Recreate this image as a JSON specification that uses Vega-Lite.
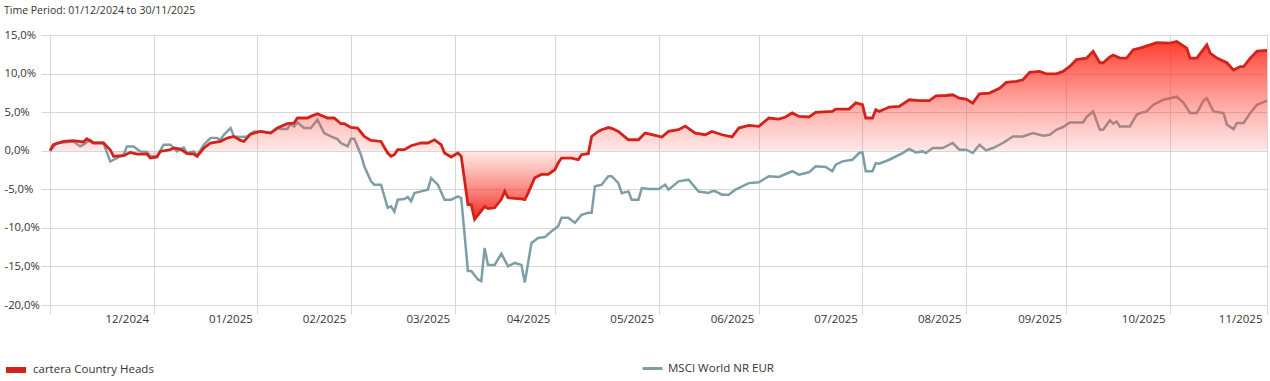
{
  "$schema": "https://vega.github.io/schema/vega-lite/v6.json",
  "width": 1217,
  "height": 270,
  "autosize": {"type": "none"},
  "padding": {"left": 50, "top": 35, "right": 3, "bottom": 76},
  "background": "white",
  "title": {
    "text": "Time Period: 01/12/2024 to 30/11/2025",
    "anchor": "start",
    "frame": "group",
    "orient": "top",
    "dx": -46,
    "offset": 13,
    "font": "Open Sans",
    "fontSize": 10.5,
    "fontWeight": "normal",
    "color": "#333333"
  },
  "config": {
    "view": {"stroke": null},
    "font": "Open Sans"
  },
  "datasets": {
    "cartera": [
      {"date": "2024-12-01", "value": 0},
      {"date": "2024-12-02", "value": 0.78},
      {"date": "2024-12-05", "value": 1.2},
      {"date": "2024-12-08", "value": 1.3},
      {"date": "2024-12-11", "value": 1.13},
      {"date": "2024-12-12", "value": 1.55},
      {"date": "2024-12-14", "value": 1.0},
      {"date": "2024-12-17", "value": 1.0},
      {"date": "2024-12-19", "value": 0.13},
      {"date": "2024-12-20", "value": -0.73},
      {"date": "2024-12-23", "value": -0.65},
      {"date": "2024-12-25", "value": -0.22},
      {"date": "2024-12-27", "value": -0.43},
      {"date": "2024-12-30", "value": -0.43},
      {"date": "2024-12-31", "value": -0.95},
      {"date": "2025-01-02", "value": -0.82},
      {"date": "2025-01-03", "value": -0.09},
      {"date": "2025-01-06", "value": 0.13},
      {"date": "2025-01-07", "value": 0.35},
      {"date": "2025-01-09", "value": 0.22},
      {"date": "2025-01-11", "value": -0.39},
      {"date": "2025-01-13", "value": -0.43},
      {"date": "2025-01-14", "value": -0.73},
      {"date": "2025-01-16", "value": 0.35},
      {"date": "2025-01-18", "value": 1.0},
      {"date": "2025-01-21", "value": 1.2},
      {"date": "2025-01-23", "value": 1.64},
      {"date": "2025-01-25", "value": 1.85},
      {"date": "2025-01-27", "value": 1.33},
      {"date": "2025-01-28", "value": 1.2},
      {"date": "2025-01-30", "value": 2.16},
      {"date": "2025-02-02", "value": 2.5},
      {"date": "2025-02-05", "value": 2.29},
      {"date": "2025-02-07", "value": 2.94},
      {"date": "2025-02-10", "value": 3.5},
      {"date": "2025-02-12", "value": 3.59},
      {"date": "2025-02-13", "value": 4.24},
      {"date": "2025-02-16", "value": 4.24},
      {"date": "2025-02-17", "value": 4.45},
      {"date": "2025-02-19", "value": 4.8},
      {"date": "2025-02-22", "value": 4.24},
      {"date": "2025-02-24", "value": 4.24},
      {"date": "2025-02-26", "value": 3.5},
      {"date": "2025-02-27", "value": 3.5},
      {"date": "2025-03-01", "value": 3.02},
      {"date": "2025-03-03", "value": 2.94},
      {"date": "2025-03-05", "value": 1.85},
      {"date": "2025-03-07", "value": 1.33},
      {"date": "2025-03-10", "value": 1.2},
      {"date": "2025-03-12", "value": -0.3},
      {"date": "2025-03-13", "value": -0.73},
      {"date": "2025-03-14", "value": -0.52},
      {"date": "2025-03-15", "value": 0.13},
      {"date": "2025-03-17", "value": 0.13},
      {"date": "2025-03-19", "value": 0.65},
      {"date": "2025-03-22", "value": 1.0},
      {"date": "2025-03-24", "value": 1.0},
      {"date": "2025-03-26", "value": 1.42},
      {"date": "2025-03-28", "value": 0.78},
      {"date": "2025-03-29", "value": -0.3},
      {"date": "2025-03-31", "value": -0.82},
      {"date": "2025-04-02", "value": -0.3},
      {"date": "2025-04-03", "value": -0.73},
      {"date": "2025-04-05", "value": -7.0},
      {"date": "2025-04-06", "value": -7.0},
      {"date": "2025-04-07", "value": -8.9},
      {"date": "2025-04-09", "value": -7.8},
      {"date": "2025-04-10", "value": -7.25},
      {"date": "2025-04-11", "value": -7.5},
      {"date": "2025-04-13", "value": -7.4},
      {"date": "2025-04-15", "value": -6.3},
      {"date": "2025-04-16", "value": -5.27},
      {"date": "2025-04-17", "value": -6.1},
      {"date": "2025-04-21", "value": -6.25},
      {"date": "2025-04-22", "value": -6.35},
      {"date": "2025-04-23", "value": -5.5},
      {"date": "2025-04-25", "value": -3.5},
      {"date": "2025-04-27", "value": -3.07},
      {"date": "2025-04-29", "value": -3.07},
      {"date": "2025-05-01", "value": -2.46},
      {"date": "2025-05-02", "value": -1.6},
      {"date": "2025-05-03", "value": -0.95},
      {"date": "2025-05-06", "value": -0.95},
      {"date": "2025-05-08", "value": -1.17},
      {"date": "2025-05-09", "value": -0.52},
      {"date": "2025-05-11", "value": -0.39},
      {"date": "2025-05-12", "value": 1.85},
      {"date": "2025-05-14", "value": 2.5},
      {"date": "2025-05-15", "value": 2.72},
      {"date": "2025-05-17", "value": 3.0},
      {"date": "2025-05-18", "value": 2.9},
      {"date": "2025-05-20", "value": 2.5},
      {"date": "2025-05-23", "value": 1.42},
      {"date": "2025-05-26", "value": 1.42},
      {"date": "2025-05-28", "value": 2.29},
      {"date": "2025-05-31", "value": 1.98},
      {"date": "2025-06-02", "value": 1.77},
      {"date": "2025-06-04", "value": 2.5},
      {"date": "2025-06-07", "value": 2.72},
      {"date": "2025-06-09", "value": 3.2},
      {"date": "2025-06-12", "value": 2.29},
      {"date": "2025-06-15", "value": 2.07},
      {"date": "2025-06-17", "value": 2.5},
      {"date": "2025-06-20", "value": 2.07},
      {"date": "2025-06-23", "value": 1.8},
      {"date": "2025-06-25", "value": 2.94},
      {"date": "2025-06-28", "value": 3.28},
      {"date": "2025-07-01", "value": 3.15},
      {"date": "2025-07-04", "value": 4.24},
      {"date": "2025-07-07", "value": 4.1},
      {"date": "2025-07-09", "value": 4.37},
      {"date": "2025-07-11", "value": 4.9},
      {"date": "2025-07-13", "value": 4.45},
      {"date": "2025-07-16", "value": 4.37},
      {"date": "2025-07-18", "value": 4.96},
      {"date": "2025-07-23", "value": 5.09},
      {"date": "2025-07-24", "value": 5.4},
      {"date": "2025-07-28", "value": 5.4},
      {"date": "2025-07-30", "value": 6.2},
      {"date": "2025-08-01", "value": 5.96},
      {"date": "2025-08-02", "value": 4.24},
      {"date": "2025-08-04", "value": 4.24},
      {"date": "2025-08-05", "value": 5.31},
      {"date": "2025-08-06", "value": 5.09},
      {"date": "2025-08-09", "value": 5.66},
      {"date": "2025-08-12", "value": 5.74},
      {"date": "2025-08-15", "value": 6.6},
      {"date": "2025-08-18", "value": 6.5},
      {"date": "2025-08-21", "value": 6.5},
      {"date": "2025-08-23", "value": 7.12},
      {"date": "2025-08-26", "value": 7.16},
      {"date": "2025-08-28", "value": 7.25},
      {"date": "2025-08-30", "value": 6.8},
      {"date": "2025-09-01", "value": 6.7},
      {"date": "2025-09-03", "value": 6.17},
      {"date": "2025-09-05", "value": 7.38},
      {"date": "2025-09-08", "value": 7.47},
      {"date": "2025-09-11", "value": 8.1},
      {"date": "2025-09-13", "value": 8.85},
      {"date": "2025-09-16", "value": 8.98},
      {"date": "2025-09-18", "value": 9.2},
      {"date": "2025-09-20", "value": 10.15},
      {"date": "2025-09-23", "value": 10.28},
      {"date": "2025-09-25", "value": 9.97},
      {"date": "2025-09-28", "value": 9.97},
      {"date": "2025-09-30", "value": 10.28},
      {"date": "2025-10-02", "value": 10.93},
      {"date": "2025-10-04", "value": 11.8},
      {"date": "2025-10-07", "value": 12.0},
      {"date": "2025-10-09", "value": 12.9},
      {"date": "2025-10-11", "value": 11.4},
      {"date": "2025-10-12", "value": 11.4},
      {"date": "2025-10-14", "value": 12.15},
      {"date": "2025-10-15", "value": 12.4},
      {"date": "2025-10-17", "value": 12.0},
      {"date": "2025-10-19", "value": 12.0},
      {"date": "2025-10-21", "value": 13.1},
      {"date": "2025-10-23", "value": 13.3},
      {"date": "2025-10-26", "value": 13.73},
      {"date": "2025-10-28", "value": 14.0},
      {"date": "2025-11-01", "value": 13.95},
      {"date": "2025-11-03", "value": 14.16},
      {"date": "2025-11-06", "value": 13.3},
      {"date": "2025-11-07", "value": 12.0},
      {"date": "2025-11-09", "value": 12.0},
      {"date": "2025-11-12", "value": 13.73},
      {"date": "2025-11-13", "value": 12.65},
      {"date": "2025-11-15", "value": 12.0},
      {"date": "2025-11-18", "value": 11.4},
      {"date": "2025-11-20", "value": 10.45},
      {"date": "2025-11-22", "value": 10.9},
      {"date": "2025-11-23", "value": 10.9},
      {"date": "2025-11-25", "value": 12.0},
      {"date": "2025-11-27", "value": 12.9},
      {"date": "2025-11-30", "value": 13.0}
    ],
    "msci": [
      {"date": "2024-12-01", "value": 0},
      {"date": "2024-12-03", "value": 1.0},
      {"date": "2024-12-05", "value": 1.08},
      {"date": "2024-12-08", "value": 1.2},
      {"date": "2024-12-10", "value": 0.56},
      {"date": "2024-12-11", "value": 0.78},
      {"date": "2024-12-13", "value": 1.42},
      {"date": "2024-12-14", "value": 1.08},
      {"date": "2024-12-17", "value": 1.0},
      {"date": "2024-12-19", "value": -1.4},
      {"date": "2024-12-20", "value": -1.17},
      {"date": "2024-12-23", "value": -0.52},
      {"date": "2024-12-24", "value": 0.56},
      {"date": "2024-12-26", "value": 0.56},
      {"date": "2024-12-28", "value": -0.09},
      {"date": "2024-12-30", "value": -0.17},
      {"date": "2024-12-31", "value": -0.73},
      {"date": "2025-01-02", "value": -0.73},
      {"date": "2025-01-04", "value": 0.78},
      {"date": "2025-01-06", "value": 0.78},
      {"date": "2025-01-08", "value": -0.09},
      {"date": "2025-01-10", "value": 0.43},
      {"date": "2025-01-11", "value": -0.3},
      {"date": "2025-01-13", "value": -0.09},
      {"date": "2025-01-14", "value": -0.65},
      {"date": "2025-01-16", "value": 0.78},
      {"date": "2025-01-18", "value": 1.64},
      {"date": "2025-01-20", "value": 1.64},
      {"date": "2025-01-21", "value": 1.42},
      {"date": "2025-01-22", "value": 2.07},
      {"date": "2025-01-24", "value": 2.94},
      {"date": "2025-01-25", "value": 1.85},
      {"date": "2025-01-27", "value": 1.77},
      {"date": "2025-01-29", "value": 1.85},
      {"date": "2025-01-31", "value": 2.5},
      {"date": "2025-02-02", "value": 2.5},
      {"date": "2025-02-05", "value": 2.29},
      {"date": "2025-02-07", "value": 2.94},
      {"date": "2025-02-08", "value": 2.81},
      {"date": "2025-02-10", "value": 2.81},
      {"date": "2025-02-11", "value": 3.5},
      {"date": "2025-02-12", "value": 3.15},
      {"date": "2025-02-13", "value": 3.67},
      {"date": "2025-02-15", "value": 2.94},
      {"date": "2025-02-17", "value": 2.94},
      {"date": "2025-02-19", "value": 4.02},
      {"date": "2025-02-21", "value": 2.29},
      {"date": "2025-02-23", "value": 1.85},
      {"date": "2025-02-25", "value": 1.51},
      {"date": "2025-02-26", "value": 1.0},
      {"date": "2025-02-28", "value": 0.56},
      {"date": "2025-03-01", "value": 1.55},
      {"date": "2025-03-02", "value": 1.55},
      {"date": "2025-03-04", "value": -0.52},
      {"date": "2025-03-05", "value": -2.03},
      {"date": "2025-03-07", "value": -3.97},
      {"date": "2025-03-08", "value": -4.4},
      {"date": "2025-03-10", "value": -4.4},
      {"date": "2025-03-12", "value": -7.4},
      {"date": "2025-03-13", "value": -7.2},
      {"date": "2025-03-14", "value": -7.9},
      {"date": "2025-03-15", "value": -6.35},
      {"date": "2025-03-17", "value": -6.26},
      {"date": "2025-03-18", "value": -6.0},
      {"date": "2025-03-19", "value": -6.56},
      {"date": "2025-03-20", "value": -5.48},
      {"date": "2025-03-22", "value": -5.27},
      {"date": "2025-03-24", "value": -5.05},
      {"date": "2025-03-25", "value": -3.54},
      {"date": "2025-03-27", "value": -4.4},
      {"date": "2025-03-29", "value": -6.35},
      {"date": "2025-03-31", "value": -6.35},
      {"date": "2025-04-02", "value": -5.92},
      {"date": "2025-04-03", "value": -6.13},
      {"date": "2025-04-05", "value": -15.6},
      {"date": "2025-04-06", "value": -15.6},
      {"date": "2025-04-08", "value": -16.7},
      {"date": "2025-04-09", "value": -16.9},
      {"date": "2025-04-10", "value": -12.6},
      {"date": "2025-04-11", "value": -14.8},
      {"date": "2025-04-13", "value": -14.8},
      {"date": "2025-04-15", "value": -13.35},
      {"date": "2025-04-17", "value": -15.0},
      {"date": "2025-04-19", "value": -14.55},
      {"date": "2025-04-21", "value": -14.8},
      {"date": "2025-04-22", "value": -17.1},
      {"date": "2025-04-23", "value": -14.55},
      {"date": "2025-04-24", "value": -11.95},
      {"date": "2025-04-26", "value": -11.3},
      {"date": "2025-04-28", "value": -11.2},
      {"date": "2025-04-30", "value": -10.45},
      {"date": "2025-05-02", "value": -9.8},
      {"date": "2025-05-03", "value": -8.7},
      {"date": "2025-05-05", "value": -8.7},
      {"date": "2025-05-07", "value": -9.35},
      {"date": "2025-05-09", "value": -8.3},
      {"date": "2025-05-11", "value": -8.05},
      {"date": "2025-05-12", "value": -8.05},
      {"date": "2025-05-13", "value": -4.6},
      {"date": "2025-05-15", "value": -4.4},
      {"date": "2025-05-17", "value": -3.3},
      {"date": "2025-05-18", "value": -3.3},
      {"date": "2025-05-20", "value": -4.2},
      {"date": "2025-05-21", "value": -5.5},
      {"date": "2025-05-23", "value": -5.27},
      {"date": "2025-05-24", "value": -6.35},
      {"date": "2025-05-26", "value": -6.35},
      {"date": "2025-05-27", "value": -4.85},
      {"date": "2025-05-29", "value": -4.97},
      {"date": "2025-06-01", "value": -4.97},
      {"date": "2025-06-03", "value": -4.4},
      {"date": "2025-06-04", "value": -5.05},
      {"date": "2025-06-07", "value": -3.97},
      {"date": "2025-06-10", "value": -3.75},
      {"date": "2025-06-13", "value": -5.3},
      {"date": "2025-06-16", "value": -5.48},
      {"date": "2025-06-17", "value": -5.27},
      {"date": "2025-06-18", "value": -5.27},
      {"date": "2025-06-20", "value": -5.7},
      {"date": "2025-06-22", "value": -5.7},
      {"date": "2025-06-24", "value": -5.05},
      {"date": "2025-06-25", "value": -4.84},
      {"date": "2025-06-28", "value": -4.2},
      {"date": "2025-07-01", "value": -4.1},
      {"date": "2025-07-04", "value": -3.3},
      {"date": "2025-07-07", "value": -3.4},
      {"date": "2025-07-11", "value": -2.66},
      {"date": "2025-07-13", "value": -3.1},
      {"date": "2025-07-16", "value": -2.8},
      {"date": "2025-07-18", "value": -2.03},
      {"date": "2025-07-21", "value": -2.1},
      {"date": "2025-07-23", "value": -2.66},
      {"date": "2025-07-24", "value": -1.8},
      {"date": "2025-07-26", "value": -1.38},
      {"date": "2025-07-29", "value": -1.17},
      {"date": "2025-07-31", "value": -0.3},
      {"date": "2025-08-01", "value": -0.22},
      {"date": "2025-08-02", "value": -2.66},
      {"date": "2025-08-04", "value": -2.66},
      {"date": "2025-08-05", "value": -1.6},
      {"date": "2025-08-06", "value": -1.68},
      {"date": "2025-08-09", "value": -1.17},
      {"date": "2025-08-13", "value": -0.3},
      {"date": "2025-08-15", "value": 0.22},
      {"date": "2025-08-17", "value": -0.22},
      {"date": "2025-08-19", "value": -0.09},
      {"date": "2025-08-20", "value": -0.3},
      {"date": "2025-08-22", "value": 0.35},
      {"date": "2025-08-25", "value": 0.35},
      {"date": "2025-08-28", "value": 1.0},
      {"date": "2025-08-30", "value": 0.13},
      {"date": "2025-09-01", "value": 0.13},
      {"date": "2025-09-03", "value": -0.3},
      {"date": "2025-09-05", "value": 0.78},
      {"date": "2025-09-07", "value": 0.04},
      {"date": "2025-09-09", "value": 0.35},
      {"date": "2025-09-12", "value": 1.0},
      {"date": "2025-09-15", "value": 1.85},
      {"date": "2025-09-18", "value": 1.85},
      {"date": "2025-09-21", "value": 2.29},
      {"date": "2025-09-24", "value": 1.94},
      {"date": "2025-09-26", "value": 2.07},
      {"date": "2025-09-28", "value": 2.72},
      {"date": "2025-09-30", "value": 3.07},
      {"date": "2025-10-02", "value": 3.67},
      {"date": "2025-10-06", "value": 3.67},
      {"date": "2025-10-07", "value": 4.37},
      {"date": "2025-10-09", "value": 5.09},
      {"date": "2025-10-11", "value": 2.72},
      {"date": "2025-10-12", "value": 2.72},
      {"date": "2025-10-14", "value": 3.93},
      {"date": "2025-10-15", "value": 3.5},
      {"date": "2025-10-16", "value": 3.8},
      {"date": "2025-10-17", "value": 3.15},
      {"date": "2025-10-20", "value": 3.15},
      {"date": "2025-10-22", "value": 4.66},
      {"date": "2025-10-23", "value": 4.88},
      {"date": "2025-10-25", "value": 5.09},
      {"date": "2025-10-27", "value": 5.96},
      {"date": "2025-10-30", "value": 6.6},
      {"date": "2025-11-01", "value": 6.8},
      {"date": "2025-11-03", "value": 7.0},
      {"date": "2025-11-05", "value": 6.25},
      {"date": "2025-11-07", "value": 4.88},
      {"date": "2025-11-09", "value": 4.88},
      {"date": "2025-11-11", "value": 6.5},
      {"date": "2025-11-12", "value": 6.8},
      {"date": "2025-11-14", "value": 5.09},
      {"date": "2025-11-17", "value": 4.88},
      {"date": "2025-11-18", "value": 3.37},
      {"date": "2025-11-20", "value": 2.8},
      {"date": "2025-11-21", "value": 3.59},
      {"date": "2025-11-23", "value": 3.59},
      {"date": "2025-11-25", "value": 4.88},
      {"date": "2025-11-27", "value": 5.96},
      {"date": "2025-11-30", "value": 6.5}
    ]
  },
  "encoding": {
    "x": {
      "field": "date",
      "type": "temporal",
      "title": null,
      "scale": {
        "type": "utc",
        "domain": [
          {"year": 2024, "month": 12, "date": 1, "utc": true},
          {"year": 2025, "month": 11, "date": 30, "utc": true}
        ]
      },
      "axis": {
        "values": [
          {"year": 2024, "month": 12, "date": 1, "utc": true},
          {"year": 2025, "month": 1, "date": 1, "utc": true},
          {"year": 2025, "month": 2, "date": 1, "utc": true},
          {"year": 2025, "month": 3, "date": 1, "utc": true},
          {"year": 2025, "month": 4, "date": 1, "utc": true},
          {"year": 2025, "month": 5, "date": 1, "utc": true},
          {"year": 2025, "month": 6, "date": 1, "utc": true},
          {"year": 2025, "month": 7, "date": 1, "utc": true},
          {"year": 2025, "month": 8, "date": 1, "utc": true},
          {"year": 2025, "month": 9, "date": 1, "utc": true},
          {"year": 2025, "month": 10, "date": 1, "utc": true},
          {"year": 2025, "month": 11, "date": 1, "utc": true},
          {"year": 2025, "month": 11, "date": 30, "utc": true}
        ],
        "labelExpr": "datum.value < 1733100000000 ? '' : utcFormat(datum.value - 43200000, '%m/%Y')",
        "labelAlign": "right",
        "labelBaseline": "top",
        "labelOffset": -5,
        "labelPadding": -1,
        "labelOverlap": false,
        "labelFlush": false,
        "labelBound": false,
        "labelFont": "Open Sans",
        "labelFontSize": 11.5,
        "labelColor": "#333333",
        "tickSize": 9,
        "tickColor": "#d6d6d6",
        "tickWidth": 1,
        "domainColor": "#d6d6d6",
        "domainWidth": 1,
        "grid": true,
        "gridColor": "#d6d6d6",
        "gridWidth": 1
      }
    },
    "y": {
      "field": "value",
      "type": "quantitative",
      "title": null,
      "scale": {"domain": [-20, 15], "nice": false, "zero": false},
      "axis": {
        "values": [-20, -15, -10, -5, 0, 5, 10, 15],
        "labelExpr": "replace(replace(format(datum.value, '.1f'), '.', ','), '\u2212', '-') + '%'",
        "labelAlign": "left",
        "labelBaseline": "middle",
        "labelPadding": 37,
        "labelFont": "Open Sans",
        "labelFontSize": 11.3,
        "labelColor": "#333333",
        "tickSize": 9,
        "tickColor": "#d6d6d6",
        "tickWidth": 1,
        "domainColor": "#d6d6d6",
        "domainWidth": 1,
        "grid": true,
        "gridColor": "#d6d6d6",
        "gridWidth": 1
      }
    }
  },
  "layer": [
    {
      "data": {"name": "msci"},
      "mark": {"type": "line", "strokeWidth": 2.5, "interpolate": "linear"},
      "encoding": {
        "stroke": {
          "datum": "MSCI World NR EUR",
          "scale": {"range": ["#7d9ea6"]},
          "legend": {
            "orient": "none",
            "legendX": 591,
            "legendY": 322,
            "title": null,
            "padding": 0,
            "symbolType": "stroke",
            "symbolSize": 400,
            "symbolStrokeWidth": 3,
            "labelFont": "Open Sans",
            "labelFontSize": 11.5,
            "labelColor": "#333333",
            "labelOffset": 4
          }
        }
      }
    },
    {
      "data": {"name": "cartera"},
      "mark": {
        "type": "area",
        "fill": {
          "gradient": "linear",
          "x1": 0, "y1": 0, "x2": 0, "y2": 1,
          "stops": [
            {"offset": 0, "color": "rgba(255,45,30,0.92)"},
            {"offset": 0.614, "color": "rgba(255,90,80,0.14)"},
            {"offset": 1, "color": "rgba(240,25,15,0.95)"}
          ]
        }
      },
      "encoding": {
        "y2": {"datum": 0}
      }
    },
    {
      "data": {"name": "cartera"},
      "mark": {"type": "line", "strokeWidth": 2.8, "interpolate": "linear"},
      "encoding": {
        "stroke": {
          "datum": "cartera Country Heads",
          "scale": {"range": ["#d2221a"]},
          "legend": {
            "orient": "none",
            "legendX": -47,
            "legendY": 322,
            "title": null,
            "padding": 0,
            "symbolType": "stroke",
            "symbolSize": 400,
            "symbolStrokeWidth": 6,
            "labelFont": "Open Sans",
            "labelFontSize": 11.5,
            "labelColor": "#333333",
            "labelOffset": 4
          }
        }
      }
    }
  ],
  "resolve": {
    "scale": {"stroke": "independent"},
    "legend": {"stroke": "independent"}
  }
}
